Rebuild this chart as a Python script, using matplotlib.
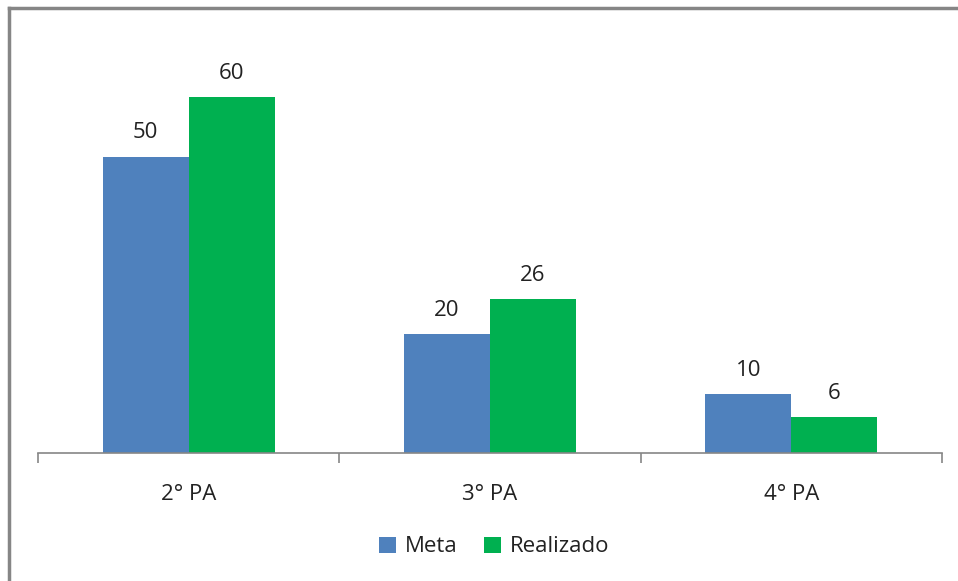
import numpy as np
import matplotlib
matplotlib.use("Agg")
from matplotlib import pyplot as plt
from matplotlib.lines import Line2D

categories = ["2° PA", "3° PA", "4° PA"]
meta = [50, 20, 10]
realizado = [60, 26, 6]

plt.rcParams['font.family'] = ['Open Sans', 'DejaVu Sans']

W, H = 958, 581
fig = plt.figure(figsize=(W / 100, H / 100), dpi=100)
ax = fig.add_axes([38 / W, (H - 453) / H, (942 - 38) / W, (453 - 38) / H])

x = np.arange(len(categories))
bw = 0.285
b1 = ax.bar(x - bw / 2, meta, bw, color="#4F81BD", label="Meta")
b2 = ax.bar(x + bw / 2, realizado, bw, color="#00B050", label="Realizado")

for bars, vals in ((b1, meta), (b2, realizado)):
    for r, v in zip(bars, vals):
        ax.annotate(str(v), (r.get_x() + r.get_width() / 2, v),
                    xytext=(0, 17), textcoords="offset points",
                    ha="center", va="center", fontsize=16, color="#222222")

ax.set_xlim(-0.5, 2.5)
ax.set_ylim(0, 70)
ax.set_yticks([])
for s in ("top", "right", "left"):
    ax.spines[s].set_visible(False)
ax.spines["bottom"].set_color("#868686")
ax.spines["bottom"].set_linewidth(1.2)

ax.set_xticks(x)
ax.set_xticklabels(categories, fontsize=16, color="#222222")
ax.tick_params(axis="x", which="major", length=0, pad=22)
ax.set_xticks([-0.5, 0.5, 1.5, 2.5], minor=True)
ax.tick_params(axis="x", which="minor", length=7, width=1.2, color="#868686")

ax.legend(loc="center", bbox_to_anchor=(494 / W, (H - 547) / H),
          bbox_transform=fig.transFigure, ncol=2, frameon=False,
          fontsize=16, handlelength=0.75, handleheight=0.75,
          handletextpad=0.4, columnspacing=1.2, labelcolor="#222222")

# chart frame (only top and left edges visible)
fig.add_artist(Line2D([9 / W, 9 / W], [0, 1 - 8 / H], color="#868686", lw=2.5,
                      transform=fig.transFigure))
fig.add_artist(Line2D([9 / W, 1], [1 - 8 / H, 1 - 8 / H], color="#868686", lw=2.5,
                      transform=fig.transFigure))

fig.savefig("out.png", dpi=100)
